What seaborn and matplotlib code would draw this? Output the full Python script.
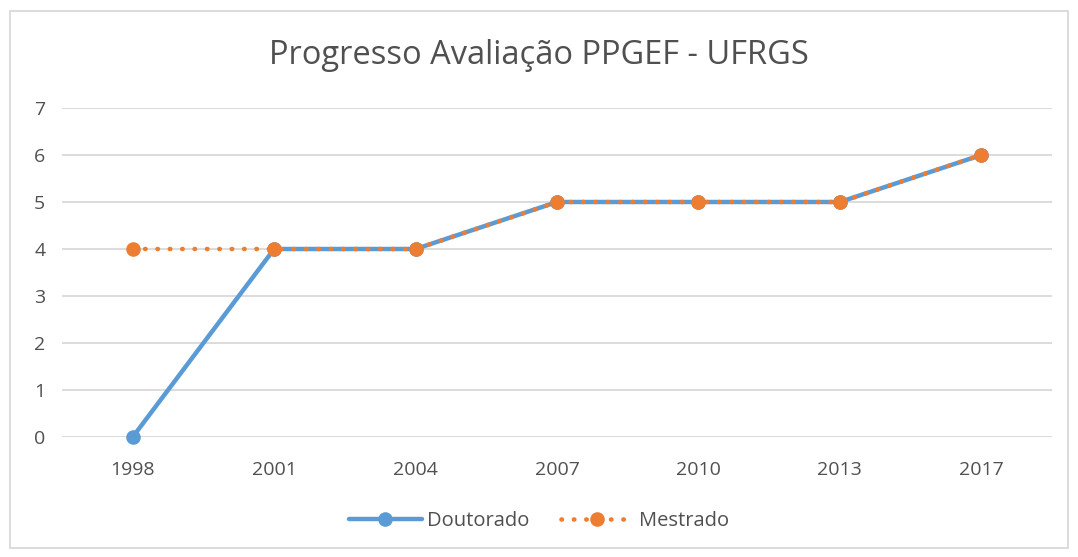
import matplotlib
matplotlib.use("Agg")
import matplotlib.pyplot as plt
import pandas as pd
import seaborn as sns
from matplotlib.lines import Line2D
from matplotlib.patches import Rectangle

years = ["1998", "2001", "2004", "2007", "2010", "2013", "2017"]
doutorado = [0, 4, 4, 5, 5, 5, 6]
mestrado = [4, 4, 4, 5, 5, 5, 6]

blue = "#5b9bd5"
orange = "#ed7d31"
grid = "#d9d9d9"
text = "#505050"

sns.set_style("white")
plt.rcParams["font.family"] = ["Open Sans", "DejaVu Sans"]

df = pd.DataFrame({"ano": years, "Doutorado": doutorado, "Mestrado": mestrado})

fig = plt.figure(figsize=(10.78, 5.57), dpi=100)
ax = fig.add_axes([62 / 1078, 1 - 437 / 557, 990 / 1078, 329 / 557])

sns.lineplot(data=df, x="ano", y="Doutorado", ax=ax, color=blue, lw=3.2,
             marker="o", markersize=10.5, markeredgewidth=0, sort=False,
             zorder=3, clip_on=False)
sns.lineplot(data=df, x="ano", y="Mestrado", ax=ax, color=orange, lw=3.3,
             linestyle=(0, (0.1, 2.6)), dash_capstyle="round",
             marker="o", markersize=10.5, markeredgewidth=0, sort=False,
             zorder=4, clip_on=False)

ax.set_xlim(-0.5, len(years) - 0.5)
ax.set_ylim(0, 7)
ax.set_yticks(range(0, 8))
ax.yaxis.grid(True, color=grid, lw=1.3)
ax.set_axisbelow(True)
for s in ax.spines.values():
    s.set_visible(False)
ax.tick_params(axis="both", length=0, labelsize=14, colors=text)
ax.tick_params(axis="x", pad=17)
ax.tick_params(axis="y", pad=12)
ax.set_xlabel("")
ax.set_ylabel("")

fig.text(0.5, 1 - 55 / 557, "Progresso Avaliação PPGEF - UFRGS", ha="center",
         va="center", fontsize=23.5, color=text)

handles = [
    Line2D([], [], color=blue, lw=3.2, marker="o", markersize=10.5, markeredgewidth=0),
    Line2D([], [], color=orange, lw=3.3, linestyle=(0, (0.1, 2.6)),
           dash_capstyle="round", marker="o", markersize=10.5, markeredgewidth=0),
]
fig.legend(handles, ["Doutorado", "Mestrado"], loc="center",
           bbox_to_anchor=(0.5, 1 - 521 / 557), ncol=2, frameon=False,
           fontsize=14.5, labelcolor=text, handlelength=3.6, columnspacing=1.6,
           handletextpad=0.25)

fig.patches.append(Rectangle((10 / 1078, 9 / 557), 1058 / 1078, 537 / 557,
                             transform=fig.transFigure, fill=False,
                             edgecolor=grid, lw=1.3))

fig.savefig("out.png", dpi=100, facecolor="white")
